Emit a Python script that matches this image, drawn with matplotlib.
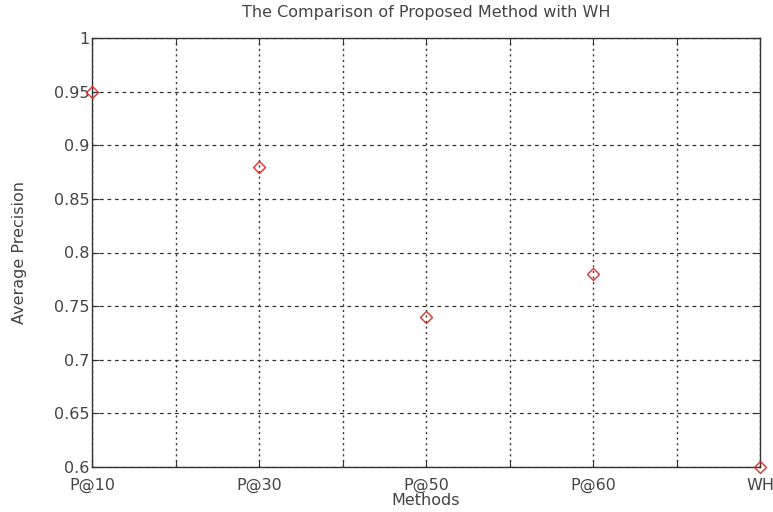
import numpy as np
import matplotlib
matplotlib.use('Agg')
import matplotlib.pyplot as plt

plt.rcParams['font.family'] = ['DejaVu Sans']

methods = ['P@10', 'P@30', 'P@50', 'P@60', 'WH']
avg_precision = [0.95, 0.88, 0.74, 0.78, 0.60]

fig = plt.figure(figsize=(7.73, 5.12), dpi=100)
ax = fig.add_axes([92 / 773, 1 - 467 / 512, 668 / 773, 429 / 512])

x = np.arange(1, len(methods) + 1)
ax.plot(x, avg_precision, linestyle='none', marker='D', markersize=6,
        markerfacecolor='none', markeredgecolor='#e03030', markeredgewidth=1.0,
        clip_on=False, zorder=5)

ax.set_xlim(1, len(methods))
ax.set_ylim(0.6, 1.0)

# ticks every half step, labels only on the methods
xt = np.arange(1, len(methods) + 0.01, 0.5)
ax.set_xticks(xt)
ax.set_xticklabels([methods[int(v) - 1] if v == int(v) else '' for v in xt])
yt = np.arange(0.6, 1.001, 0.05)
ax.set_yticks(yt)
ax.set_yticklabels(['%g' % round(v, 2) for v in yt])

txt = '#444444'
fs = 11.5
ax.tick_params(direction='in', length=5, width=0.8, top=True, right=True,
               labelsize=fs, colors='#333333', labelcolor=txt)
ax.tick_params(axis='x', pad=8)
ax.tick_params(axis='y', pad=2)
ax.xaxis.grid(True, color='#333333', linestyle=(0, (1.5, 2.5)), linewidth=1.0)
ax.yaxis.grid(True, color='#333333', linestyle=(0, (3, 3)), linewidth=0.9)
for s in ax.spines.values():
    s.set_linewidth(1.0)
    s.set_color('#333333')

ax.set_title('The Comparison of Proposed Method with WH', fontsize=fs,
             pad=15, color=txt)
ax.set_xlabel('Methods', fontsize=fs, labelpad=0, color=txt)
ax.set_ylabel('Average Precision', fontsize=fs, labelpad=19, color=txt)

fig.savefig('out.png', dpi=100)
